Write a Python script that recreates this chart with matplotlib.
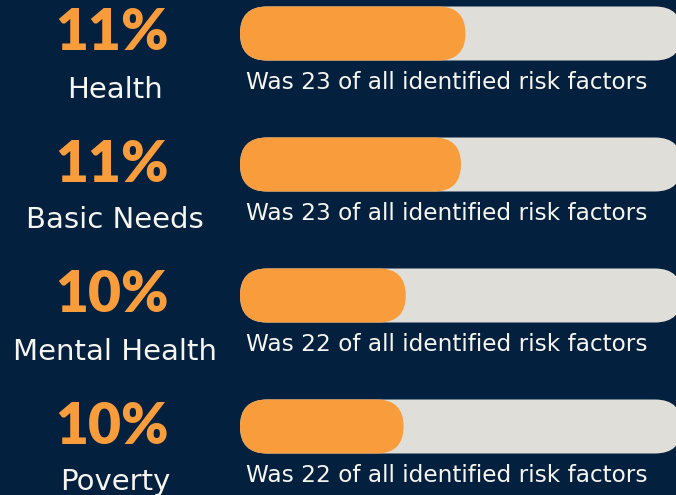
import matplotlib.pyplot as plt
from matplotlib.patches import FancyBboxPatch

# risk factor rows
labels = ['Health', 'Basic Needs', 'Mental Health', 'Poverty']
pct = [11, 11, 10, 10]
was_count = [23, 23, 22, 22]
fill_share = [0.51, 0.50, 0.375, 0.37]   # filled part of each progress track

navy = '#03203f'
orange = '#f99c3b'
track = '#e0ded9'
white = '#f7f5f0'

W, H = 676, 495
fig = plt.figure(figsize=(W/100, H/100), dpi=100, facecolor=navy)
ax = fig.add_axes([0, 0, 1, 1])
ax.set_xlim(0, W)
ax.set_ylim(H, 0)
ax.set_facecolor(navy)
ax.axis('off')

row_step = 131
bar_x0, bar_w, bar_h = 240, 442, 54

for i, lab in enumerate(labels):
    top = 6.5 + i*row_step
    # background track, then orange fill
    ax.add_patch(FancyBboxPatch((bar_x0, top), bar_w, bar_h,
                                boxstyle=f'round,pad=0,rounding_size={bar_h/2}',
                                fc=track, ec='none'))
    ax.add_patch(FancyBboxPatch((bar_x0, top), bar_w*fill_share[i], bar_h,
                                boxstyle=f'round,pad=0,rounding_size={bar_h/2}',
                                fc=orange, ec='none'))
    ax.text(112, top + 27, f'{pct[i]}%', color=orange, fontsize=41,
            family='Lato', fontweight='heavy', ha='center', va='center')
    ax.text(115, top + 83, lab, color=white, fontsize=21,
            ha='center', va='center')
    ax.text(246, top + 76, f'Was {was_count[i]} of all identified risk factors',
            color=white, fontsize=16.7, ha='left', va='center')

fig.savefig('out.png', dpi=100, facecolor=navy)
